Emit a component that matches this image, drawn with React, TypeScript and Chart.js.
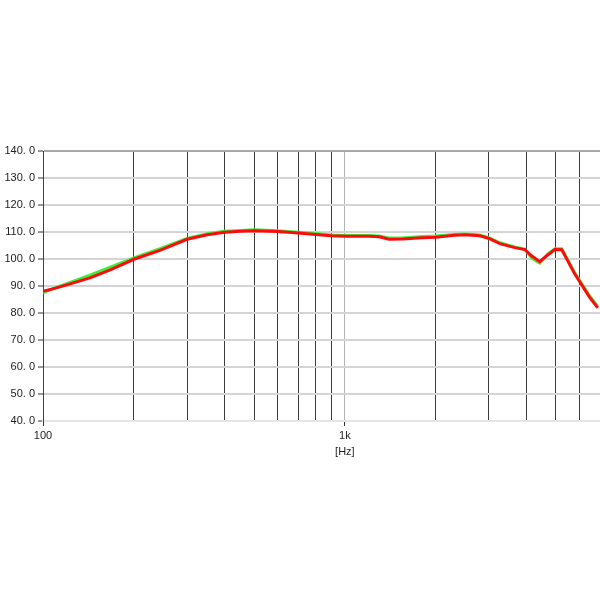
import React, { useEffect, useRef } from "react";
import { Chart, registerables } from "chart.js";

Chart.register(...registerables);

const FREQS = [100, 110, 123, 143, 167, 200, 244, 300, 350, 400, 450, 500, 600, 700, 800, 900, 1000, 1200, 1300, 1400, 1550, 1800, 2000, 2300, 2500, 2800, 3000, 3260, 3650, 3950, 4150, 4420, 4700, 4960, 5230, 5770, 6470, 6880];
const RED_VALUES = [88.0, 89.2, 90.8, 93.0, 96.0, 99.9, 103.2, 107.3, 109.0, 109.9, 110.3, 110.5, 110.2, 109.6, 109.1, 108.6, 108.4, 108.4, 108.2, 107.3, 107.4, 107.9, 108.1, 108.8, 109.0, 108.6, 107.6, 105.7, 104.2, 103.5, 101.2, 99.0, 101.5, 103.5, 103.4, 94.5, 85.8, 81.9];
const GREEN_VALUES = [87.5, 89.4, 91.3, 94.0, 97.0, 100.4, 103.8, 107.6, 109.4, 110.3, 110.6, 110.8, 110.5, 109.9, 109.4, 108.9, 108.7, 108.7, 108.5, 107.8, 107.8, 108.3, 108.5, 109.1, 109.3, 108.9, 107.9, 106.0, 104.5, 103.6, 100.4, 98.5, 101.8, 103.8, 103.8, 95.0, 86.3, 82.4];
const X_GRID = [100, 200, 300, 400, 500, 600, 700, 800, 900, 1000, 2000, 3000, 4000, 5000, 6000, 7000];
const X_LABELS: Record<number, string | string[]> = { 100: "100", 1000: ["1k", "[Hz]"] };
const Y_MIN = 40;
const Y_MAX = 140;
const Y_STEP = 10;

export default function App() {
  const ref = useRef<HTMLCanvasElement | null>(null);
  useEffect(() => {
    if (!ref.current) return;
    const font = { family: "'Liberation Sans', Arial, sans-serif", size: 11 };
    const chart = new Chart(ref.current, {
      type: "line",
      data: {
        datasets: [
          {
            label: "red",
            data: FREQS.map((f, i) => ({ x: f, y: RED_VALUES[i] })),
            borderColor: "#ff0a0a",
            borderWidth: 3,
            pointRadius: 0,
            tension: 0,
            fill: false,
          },
          {
            label: "green",
            data: FREQS.map((f, i) => ({ x: f, y: GREEN_VALUES[i] })),
            borderColor: "#3cf03c",
            borderWidth: 3,
            pointRadius: 0,
            tension: 0,
            fill: false,
          },
        ],
      },
      options: {
        responsive: false,
        animation: false,
        layout: { padding: { top: 151, right: 0, bottom: 139, left: 0 } },
        plugins: { legend: { display: false }, tooltip: { enabled: false }, title: { display: false } },
        scales: {
          x: {
            type: "logarithmic",
            min: 100,
            max: 7000,
            afterBuildTicks: (scale: any) => {
              scale.ticks = X_GRID.map((v) => ({ value: v }));
            },
            afterFit: (scale: any) => {
              scale.height = 40;
              scale.paddingLeft = 0;
              scale.paddingRight = 0;
            },
            ticks: {
              autoSkip: false,
              maxRotation: 0,
              minRotation: 0,
              padding: 2,
              color: "#222",
              font: { ...font, lineHeight: 1.45 },
              callback: (v: any) => X_LABELS[Number(v)] ?? "",
            },
            grid: {
              color: (ctx: any) => (ctx.tick && ctx.tick.value === 1000 ? "#b4b4b4" : "#3c3c3c"),
              lineWidth: 1,
              drawTicks: true,
              tickLength: 5,
              tickWidth: 1,
              tickColor: (ctx: any) =>
                ctx.tick && (ctx.tick.value === 100 || ctx.tick.value === 1000) ? "#333" : "rgba(0,0,0,0)",
            },
            border: { display: true, color: "#e6e6e6", width: 2 },
          },
          y: {
            type: "linear",
            min: Y_MIN,
            max: Y_MAX,
            afterFit: (scale: any) => {
              scale.width = 43;
              scale.paddingTop = 0;
              scale.paddingBottom = 0;
            },
            ticks: {
              stepSize: Y_STEP,
              padding: 3,
              color: "#222",
              font,
              callback: (v: any) => Number(v).toFixed(1).replace(".", ". "),
            },
            grid: {
              color: (ctx: any) =>
                ctx.tick && ctx.tick.value === Y_MAX ? "#a8a8a8" : ctx.tick && ctx.tick.value === Y_MIN ? "#e6e6e6" : "#d4d4d4",
              lineWidth: 2,
              tickLength: 5,
              tickWidth: 1,
              tickColor: "#333",
            },
            border: { display: true, color: "#404040", width: 1 },
          },
        },
      },
    } as any);
    return () => chart.destroy();
  }, []);
  return (
    <div style={{ position: "fixed", left: 0, top: 0, width: 600, height: 600, background: "#fff" }}>
      <canvas ref={ref} width={600} height={600} style={{ display: "block", width: 600, height: 600 }} />
    </div>
  );
}
